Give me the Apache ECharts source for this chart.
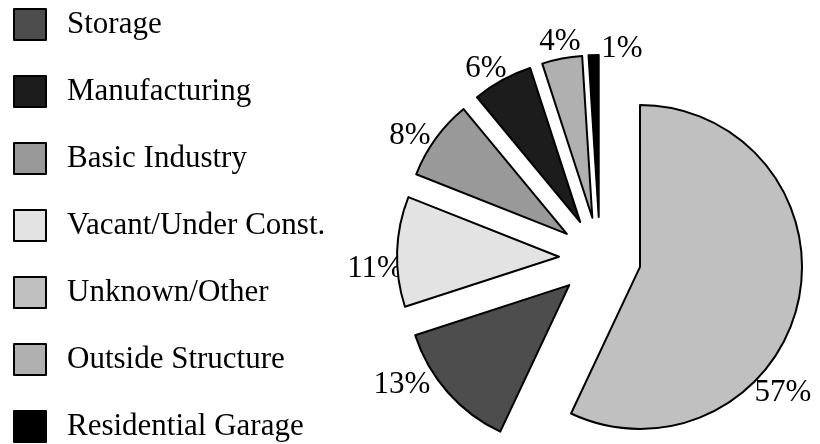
<!DOCTYPE html>
<html>
<head>
<meta charset="utf-8">
<script src="https://cdn.jsdelivr.net/npm/echarts@6/dist/echarts.min.js"></script>
<style>
  html, body { margin: 0; padding: 0; background: #fff; }
  #chart { width: 820px; height: 444px; }
</style>
</head>
<body>
<div id="chart"></div>
<script>
// slices, clockwise from 12 o'clock
const categories = ['Unknown/Other', 'Storage', 'Vacant/Under Const.', 'Basic Industry', 'Manufacturing', 'Outside Structure', 'Residential Garage']
const shares = [57, 13, 11, 8, 6, 4, 1]
const colors = ['#c0c0c0', '#4d4d4d', '#e3e3e3', '#999999', '#1c1c1c', '#b0b0b0', '#000000']
// legend order as printed on the left
const legendOrder = ['Storage', 'Manufacturing', 'Basic Industry', 'Vacant/Under Const.', 'Unknown/Other', 'Outside Structure', 'Residential Garage']

// where each percent label sits (text centre), same order as categories
const labelSpots = [[783, 393], [402, 385], [375, 269], [410, 136], [486, 69], [560, 42], [622, 49]]

const FONT = '"Liberation Serif", "Times New Roman", serif'

const chart = echarts.init(document.getElementById('chart'), null, { renderer: 'canvas' })

const seriesData = categories.map((name, i) => ({
  name: name,
  value: shares[i],
  selected: true,
  itemStyle: { color: colors[i] }
}))

// percent labels, placed beside their slices like the original
const labels = shares.map((v, i) => ({
  type: 'text',
  x: labelSpots[i][0],
  y: labelSpots[i][1],
  style: {
    text: v + '%',
    font: '31px ' + FONT,
    fill: '#000',
    align: 'center',
    verticalAlign: 'middle'
  }
}))

const option = {
  animation: false,
  legend: {
    orient: 'vertical',
    left: 13,
    top: 8,
    padding: 0,
    height: 500,
    itemWidth: 32,
    itemHeight: 31,
    itemGap: 34,
    icon: 'rect',
    selectedMode: false,
    data: legendOrder,
    itemStyle: { borderColor: '#000', borderWidth: 2 },
    textStyle: {
      fontFamily: FONT,
      fontSize: 31,
      color: '#000',
      padding: [0, 0, 0, 16]
    }
  },
  graphic: { elements: labels },
  series: [
    {
      type: 'pie',
      center: [600, 258],
      radius: 162,
      startAngle: 90,
      clockwise: true,
      selectedMode: 'multiple',
      selectedOffset: 41,
      itemStyle: { borderColor: '#000', borderWidth: 2 },
      label: { show: false },
      labelLine: { show: false },
      emphasis: { disabled: true },
      data: seriesData
    }
  ]
}

chart.setOption(option)
</script>
</body>
</html>
